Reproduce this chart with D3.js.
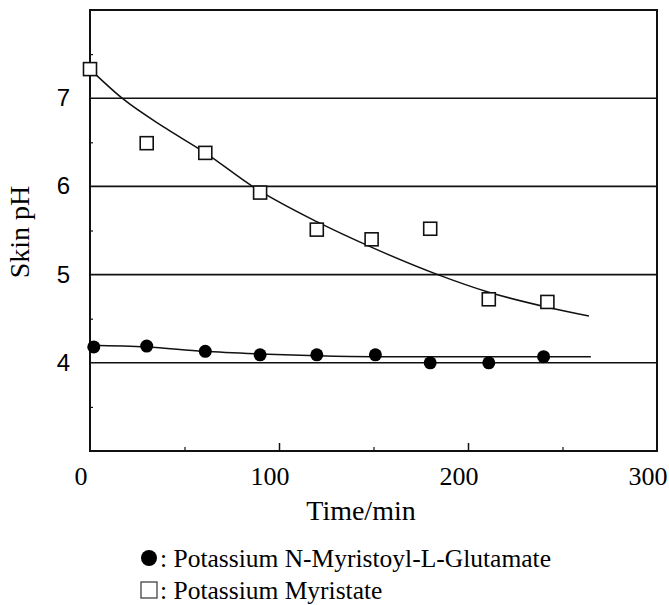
<!DOCTYPE html>
<html>
<head>
<meta charset="utf-8">
<script src="https://cdn.jsdelivr.net/npm/d3@7"></script>
<style>
  body { margin: 0; background: #fff; }
  svg { display: block; }
</style>
</head>
<body>
<script>
// values
var timeTicks = [0, 100, 200, 300];
var timeMinor = [50, 150, 250];
var phTicks = [4, 5, 6, 7];
var phMinor = [3.5, 4.5, 5.5, 6.5, 7.5];

// Potassium N-Myristoyl-L-Glutamate (filled circles)
var glutTime = [2, 30, 61, 90, 120, 151, 180, 211, 240];
var glutPH   = [4.18, 4.19, 4.13, 4.09, 4.09, 4.09, 4.00, 4.00, 4.07];
var glutFitTime = [0, 30, 60, 90, 120, 150, 200, 265];
var glutFitPH   = [4.20, 4.18, 4.13, 4.10, 4.08, 4.07, 4.07, 4.07];

// Potassium Myristate (open squares)
var myrTime = [0, 30, 61, 90, 120, 149, 180, 211, 242];
var myrPH   = [7.33, 6.49, 6.38, 5.93, 5.51, 5.40, 5.52, 4.72, 4.69];
var myrFitTime = [0, 17, 40, 61, 86, 120, 150, 184, 211, 242, 264];
var myrFitPH   = [7.33, 7.00, 6.66, 6.38, 6.00, 5.60, 5.30, 5.00, 4.80, 4.63, 4.53];

var legendLabels = ["Potassium N-Myristoyl-L-Glutamate", "Potassium Myristate"];

var width = 669, height = 605;
var margin = {top: 10, left: 90, right: 12, bottom: 154};

var xScale = d3.scaleLinear()
  .domain([0, 300])
  .range([margin.left, width - margin.right]);

var yScale = d3.scaleLinear()
  .domain([3, 8])
  .range([height - margin.bottom, margin.top]);

var serif = "'Liberation Serif', 'Times New Roman', serif";
var sans = "'Liberation Sans Narrow', 'Arial Narrow', 'Liberation Sans', sans-serif";

var svg = d3.select("body")
  .append("svg")
  .attr("width", width)
  .attr("height", height);

// horizontal grid lines at the labelled pH values
svg.append("g")
  .selectAll("line")
  .data(phTicks)
  .enter().append("line")
  .attr("x1", xScale(0)).attr("x2", xScale(300))
  .attr("y1", function(d) { return yScale(d); })
  .attr("y2", function(d) { return yScale(d); })
  .style("stroke", "#111")
  .style("stroke-width", 1.6);

// x axis: ticks point up into the plot
var xAxis = svg.append("g")
  .attr("transform", "translate(0," + yScale(3) + ")")
  .call(d3.axisTop(xScale).tickValues(timeTicks.slice(1, 3)).tickSize(8).tickFormat(""));
xAxis.select(".domain").remove();
xAxis.selectAll("line").style("stroke", "#111").style("stroke-width", 1.5);

var xMinor = svg.append("g")
  .attr("transform", "translate(0," + yScale(3) + ")")
  .call(d3.axisTop(xScale).tickValues(timeMinor).tickSize(4).tickFormat(""));
xMinor.select(".domain").remove();
xMinor.selectAll("line").style("stroke", "#111").style("stroke-width", 1.2);

var yMinor = svg.append("g")
  .attr("transform", "translate(" + xScale(0) + ",0)")
  .call(d3.axisRight(yScale).tickValues(phMinor).tickSize(3).tickFormat(""));
yMinor.select(".domain").remove();
yMinor.selectAll("line").style("stroke", "#111").style("stroke-width", 1.2);

// frame
svg.append("rect")
  .attr("x", xScale(0)).attr("y", yScale(8))
  .attr("width", xScale(300) - xScale(0))
  .attr("height", yScale(3) - yScale(8))
  .style("fill", "none")
  .style("stroke", "#111")
  .style("stroke-width", 2);

// tick labels
svg.append("g")
  .selectAll("text")
  .data(timeTicks)
  .enter().append("text")
  .attr("x", function(d) { return xScale(d) - 9; })
  .attr("y", yScale(3) + 34)
  .attr("text-anchor", "middle")
  .style("font-family", serif)
  .style("font-size", "26px")
  .text(function(d) { return d; });

svg.append("g")
  .selectAll("text")
  .data(phTicks)
  .enter().append("text")
  .attr("x", xScale(0) - 20)
  .attr("y", function(d) { return yScale(d) + 8; })
  .attr("text-anchor", "end")
  .style("font-family", sans)
  .style("font-size", "24px")
  .style("font-weight", 500)
  .text(function(d) { return d; });

// axis titles
svg.append("text")
  .attr("text-anchor", "middle")
  .attr("x", 361)
  .attr("y", 520)
  .style("font-family", serif)
  .style("font-size", "28px")
  .text("Time/min");

svg.append("text")
  .attr("text-anchor", "middle")
  .attr("transform", "translate(29,232)rotate(-90)")
  .style("font-family", serif)
  .style("font-size", "28px")
  .text("Skin pH");

// fitted curves
var fitLine = d3.line()
  .x(function(d) { return xScale(d[0]); })
  .y(function(d) { return yScale(d[1]); })
  .curve(d3.curveMonotoneX);

svg.append("path")
  .datum(d3.zip(myrFitTime, myrFitPH))
  .attr("d", fitLine)
  .style("fill", "none")
  .style("stroke", "#111")
  .style("stroke-width", 1.5);

svg.append("path")
  .datum(d3.zip(glutFitTime, glutFitPH))
  .attr("d", fitLine)
  .style("fill", "none")
  .style("stroke", "#111")
  .style("stroke-width", 1.5);

// markers
svg.append("g")
  .selectAll("circle")
  .data(d3.zip(glutTime, glutPH))
  .enter().append("circle")
  .attr("cx", function(d) { return xScale(d[0]); })
  .attr("cy", function(d) { return yScale(d[1]); })
  .attr("r", 6.5)
  .style("fill", "#000");

var sq = 13;
svg.append("g")
  .selectAll("rect")
  .data(d3.zip(myrTime, myrPH))
  .enter().append("rect")
  .attr("x", function(d) { return xScale(d[0]) - sq / 2; })
  .attr("y", function(d) { return yScale(d[1]) - sq / 2; })
  .attr("width", sq).attr("height", sq)
  .style("fill", "#fff")
  .style("stroke", "#111")
  .style("stroke-width", 1.6);

// legend
var legend = svg.append("g").attr("transform", "translate(149,558)");
legend.append("circle")
  .attr("cx", 0).attr("cy", 0).attr("r", 8)
  .style("fill", "#000");
legend.append("rect")
  .attr("x", -8).attr("y", 24).attr("width", 16).attr("height", 16)
  .style("fill", "#fff")
  .style("stroke", "#333")
  .style("stroke-width", 1.2);
legend.selectAll("text")
  .data(legendLabels)
  .enter().append("text")
  .attr("x", 11)
  .attr("y", function(d, i) { return 9 + i * 32; })
  .style("font-family", serif)
  .style("font-size", "25.5px")
  .text(function(d) { return ": " + d; });
</script>
</body>
</html>
